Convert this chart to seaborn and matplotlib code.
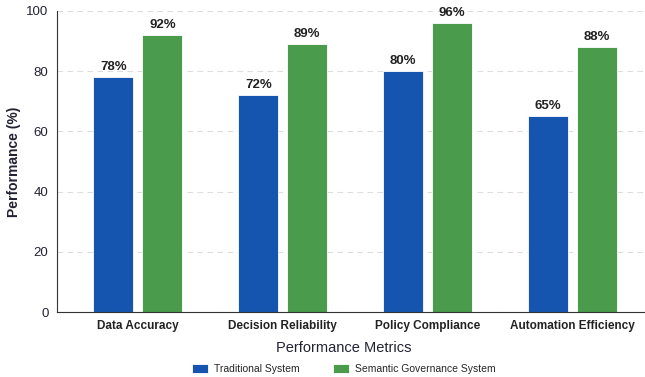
import pandas as pd
import seaborn as sns
import matplotlib.pyplot as plt

metrics = ["Data Accuracy", "Decision Reliability", "Policy Compliance", "Automation Efficiency"]
traditional = [78, 72, 80, 65]
semantic = [92, 89, 96, 88]
systems = ["Traditional System", "Semantic Governance System"]

df = pd.DataFrame({
    "Metric": metrics * 2,
    "Score": traditional + semantic,
    "System": [systems[0]] * 4 + [systems[1]] * 4,
})

sns.set_style("white")
plt.rcParams["font.family"] = ["Liberation Sans", "DejaVu Sans"]

fig = plt.figure(figsize=(6.45, 3.77), dpi=100)
ax = fig.add_axes([0.088, 0.172, 0.912, 0.799])

palette = {systems[0]: "#1555b0", systems[1]: "#4a9b4c"}
sns.barplot(data=df, x="Metric", y="Score", hue="System", palette=palette,
            width=0.676, gap=0.18, ax=ax, edgecolor="white", linewidth=0.6,
            saturation=1)

for cont in ax.containers:
    ax.bar_label(cont, labels=[f"{v:.0f}%" for v in cont.datavalues],
                 padding=3, fontsize=9.5, fontweight="bold", color="#222222")

ax.set_ylim(0, 100)
ax.set_xlim(-0.56, 3.5)
ax.set_yticks(range(0, 101, 20))
ax.yaxis.grid(True, linestyle=(0, (5, 4)), color="#dddddd", linewidth=0.8)
ax.set_axisbelow(True)
for s in ["top", "right"]:
    ax.spines[s].set_visible(False)
ax.spines["left"].set_color("#333333")
ax.spines["bottom"].set_color("#333333")
ax.tick_params(axis="y", labelsize=9.5, colors="#222233", length=0, pad=6)
ax.tick_params(axis="x", length=0, pad=6)
for t in ax.get_xticklabels():
    t.set_fontweight("bold")
    t.set_fontsize(8.5)
    t.set_color("#222222")

ax.set_ylabel("Performance (%)", fontsize=10, fontweight="bold", color="#222233")
ax.set_xlabel("Performance Metrics", fontsize=10.5, color="#222233", labelpad=6)
ax.xaxis.label.set_x(0.488)

ax.legend(loc="upper center", bbox_to_anchor=(0.488, -0.14), ncol=2, frameon=False,
          fontsize=7.5, handlelength=1.55, handleheight=1.0, handletextpad=0.6,
          columnspacing=3.2)

fig.savefig("out.png", dpi=100)
